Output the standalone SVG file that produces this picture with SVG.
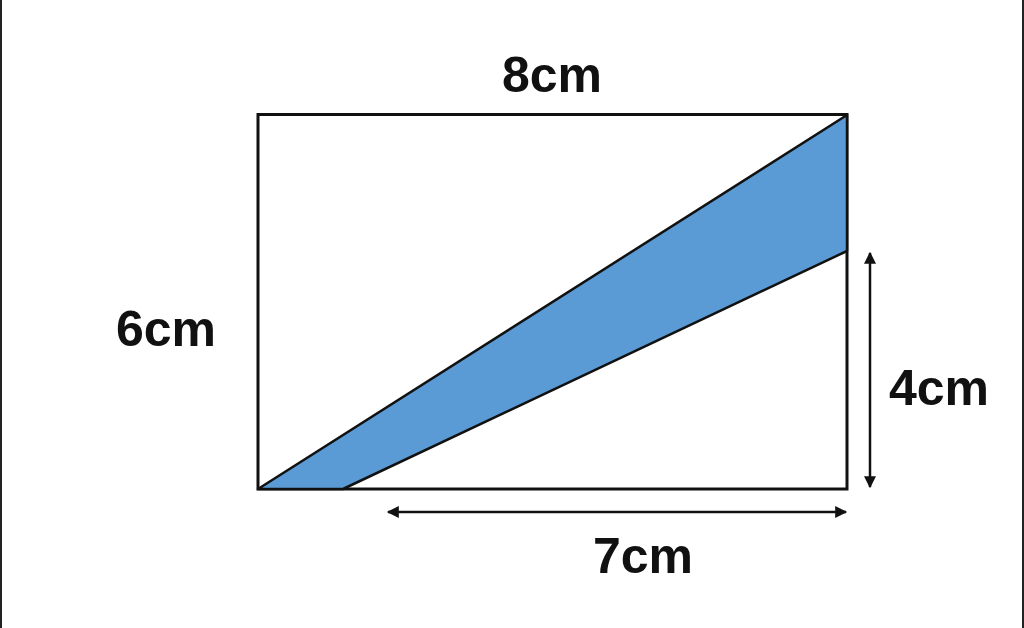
<svg xmlns="http://www.w3.org/2000/svg" width="1024" height="628" viewBox="0 0 1024 628">
<defs>
<style>
.lbl{font-family:"Liberation Sans",Arial,sans-serif;font-weight:bold;font-size:50px;fill:#111;text-anchor:middle}
.ln{stroke:#111;stroke-width:3;fill:none}
.arr{stroke:#111;stroke-width:2.5;fill:none;marker-start:url(#ah);marker-end:url(#ah)}
</style>
<marker id="ah" viewBox="0 0 10 10" refX="9" refY="5" markerWidth="14" markerHeight="12" markerUnits="userSpaceOnUse" orient="auto-start-reverse">
<path d="M0,0 L10,5 L0,10 Z" fill="#111"/>
</marker>
</defs>
<rect x="0" y="0" width="1024" height="628" fill="#fff"/>
<rect x="0" y="0" width="2" height="628" fill="#222"/>
<rect x="1022" y="0" width="2" height="628" fill="#222"/>
<g id="rectangle">
<rect class="ln" x="258" y="114.5" width="589" height="374.5"/>
</g>
<g id="shaded">
<polygon points="258,489 847,115 847,251 343,489" fill="#5B9BD5" stroke="#111" stroke-width="2.5" stroke-linejoin="round"/>
</g>
<g id="connectors">
<line class="arr" x1="870" y1="253" x2="870" y2="487"/>
<line class="arr" x1="388" y1="512" x2="846" y2="512"/>
</g>
<g id="labels">
<text class="lbl" x="552" y="92">8cm</text>
<text class="lbl" x="166" y="346">6cm</text>
<text class="lbl" x="939" y="405">4cm</text>
<text class="lbl" x="643" y="573">7cm</text>
</g>
</svg>
